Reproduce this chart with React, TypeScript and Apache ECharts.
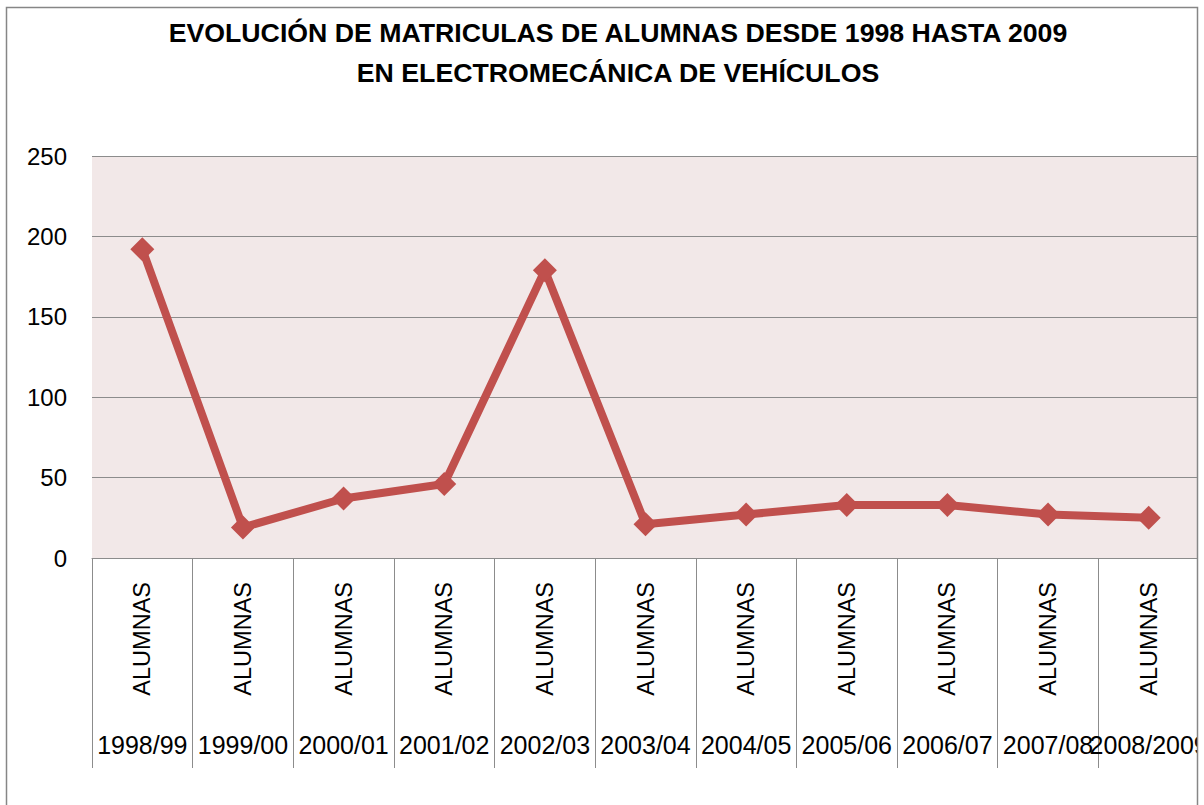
import React, { useEffect, useRef } from "react";
import * as echarts from "echarts";

const years = ["1998/99", "1999/00", "2000/01", "2001/02", "2002/03", "2003/04", "2004/05", "2005/06", "2006/07", "2007/08", "2008/2009"];
const seriesName = "ALUMNAS";
const values = [192, 19, 37, 46, 179, 21, 27, 33, 33, 27, 25];
const yTicks = { min: 0, max: 250, interval: 50 };
const titleLines = ["EVOLUCIÓN DE MATRICULAS DE ALUMNAS DESDE 1998 HASTA 2009", "EN ELECTROMECÁNICA DE VEHÍCULOS"];

const FONT = "'Liberation Sans', Arial, sans-serif";

export default function App() {
  const ref = useRef<HTMLDivElement>(null);
  useEffect(() => {
    const chart = echarts.init(ref.current!, null, { renderer: "svg" });
    chart.setOption({
      animation: false,
      backgroundColor: "#ffffff",
      title: {
        text: titleLines.join("\n"),
        left: 613,
        textAlign: "center",
        top: 8,
        textStyle: { fontFamily: FONT, fontSize: 26.7, fontWeight: "bold", color: "#000", lineHeight: 40 },
      },
      grid: {
        left: 92,
        right: 5,
        top: 156,
        bottom: 247,
        containLabel: false,
        outerBoundsMode: "none",
        show: true,
        backgroundColor: "#f2e8e8",
        borderWidth: 0,
      },
      xAxis: [
        {
          type: "category",
          data: years,
          position: "bottom",
          axisLine: { show: true, lineStyle: { color: "#8c8c8c", width: 1 } },
          axisTick: { show: true, length: 210, lineStyle: { color: "#8c8c8c", width: 1 } },
          axisLabel: {
            interval: 0,
            rotate: 90,
            margin: 24,
            formatter: () => seriesName,
            fontFamily: FONT,
            fontSize: 23.5,
            color: "#000",
          },
        },
        {
          type: "category",
          data: years,
          position: "bottom",
          offset: 174,
          axisLine: { show: false },
          axisTick: { show: false },
          axisLabel: {
            interval: 0,
            margin: 0,
            fontFamily: FONT,
            fontSize: 25,
            color: "#000",
            hideOverlap: false,
          },
        },
      ],
      yAxis: {
        type: "value",
        min: yTicks.min,
        max: yTicks.max,
        interval: yTicks.interval,
        axisLine: { show: false },
        axisTick: { show: false },
        splitLine: { show: true, lineStyle: { color: "#8c8c8c", width: 1 } },
        axisLabel: { margin: 25, fontFamily: FONT, fontSize: 24, color: "#000" },
      },
      series: [
        {
          name: seriesName,
          type: "line",
          data: values,
          xAxisIndex: 0,
          symbol: "diamond",
          symbolSize: 24,
          lineStyle: { color: "#c0504d", width: 8 },
          itemStyle: { color: "#c0504d" },
        },
      ],
      graphic: [
        {
          type: "rect",
          z: 100,
          shape: { x: 1198, y: 0, width: 10, height: 805 },
          style: { fill: "#ffffff" },
        },
        {
          type: "rect",
          z: 101,
          shape: { x: 6.5, y: 7.5, width: 1191, height: 900 },
          style: { fill: "none", stroke: "#868686", lineWidth: 1.5 },
        },
      ],
    });
    return () => chart.dispose();
  }, []);
  return (
    <div
      ref={ref}
      style={{ position: "fixed", left: 0, top: 0, width: 1204, height: 805 }}
    />
  );
}
